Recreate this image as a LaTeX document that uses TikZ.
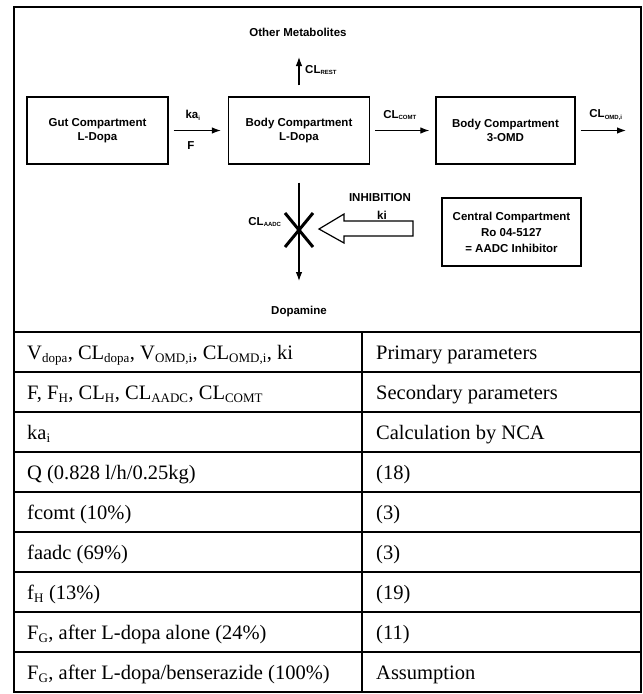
\documentclass[tikz,border=0pt]{standalone}
\usepackage{fontspec}
\setmainfont{Liberation Serif}
\newfontfamily\dsans{Liberation Sans}
\usetikzlibrary{arrows.meta}
\newcommand\dsub[1]{\textsubscript{\fontsize{6}{6}\selectfont #1}}
\newcommand\tsub[1]{\textsubscript{\fontsize{13}{13}\selectfont #1}}
\begin{document}
\begin{tikzpicture}[x=1pt,y=-1pt,
  dfont/.style={font=\dsans\bfseries\fontsize{11.5}{14}\selectfont},
  cbox/.style={draw, line width=1.3pt, minimum width=141pt, minimum height=67pt, align=center, inner sep=0pt, dfont},
  lbl/.style={inner sep=0pt, dfont},
  flow/.style={-{Latex[length=9pt,width=6.5pt]}, line width=1.1pt},
  tline/.style={line width=1.8pt},
  ttext/.style={anchor=base west, inner sep=0pt, font=\fontsize{20.5}{24}\selectfont}
]
\useasboundingbox (0,0) rectangle (643,694);
\fill[white] (0,0) rectangle (643,694);

% outer frame and table grid
\draw[line width=1.6pt] (14,7) rectangle (641,692);
\foreach \k in {0,...,8} \draw[tline] (14,332+40*\k) -- (641,332+40*\k);
\draw[line width=1.4pt] (362,332) -- (362,692);

% compartments
\node[cbox] (gut) at (97.5,130.5) {Gut Compartment\\L-Dopa};
\node[cbox] (body) at (299,130.5) {Body Compartment\\L-Dopa};
\node[cbox, minimum width=139pt] (omd) at (505.5,130.5) {Body Compartment\\3-OMD};
\node[cbox, minimum width=139pt, minimum height=68pt] (cen) at (511.5,232) {Central Compartment\\[2pt]Ro 04-5127\\[2pt]= AADC Inhibitor};

% flows
\draw[flow, shorten <=5pt, shorten >=7pt] (gut) -- (body);
\draw[flow, shorten <=5pt, shorten >=6pt] (body) -- (omd);
\coordinate (omdout) at (626,130.5);
\draw[flow, shorten <=5pt] (omd.east) -- (omdout);
\node[lbl] (ka) at (193,115) {ka\dsub{i}};
\node[lbl] (F) at (191,146) {F};
\node[lbl] (clcomt) at (400,115) {CL\dsub{COMT}};
\node[lbl] (clomd) at (606,115) {CL\dsub{OMD,i}};

\node[lbl] (om) at (298,32) {Other Metabolites};
\coordinate (upE) at (299,57);
\draw[flow, shorten <=11pt] (body.north) -- (upE);
\node[lbl, anchor=west] (clrest) at (305,70) {CL\dsub{REST}};

\coordinate (downE) at (299,281);
\draw[flow, shorten <=18pt] (body.south) -- (downE);
\node[lbl] (dop) at (299,312) {Dopamine};
\node[lbl] (claadc) at (265,222) {CL\dsub{AADC}};
\coordinate (xc) at (299,230);
\draw[line width=3pt] ([shift={(-14,-17)}]xc) -- ([shift={(14,17)}]xc);
\draw[line width=3pt] ([shift={(14,-17)}]xc) -- ([shift={(-14,17)}]xc);

% inhibition arrow
\draw[line width=1.2pt, line join=miter] (319,229) -- (344,214) -- (344,221) -- (413,221) -- (413,236) -- (344,236) -- (344,243) -- cycle;
\node[lbl] (inh) at (380,198) {INHIBITION};
\node[lbl] (ki) at (382,215) {ki};

% table text
\node[ttext] (a1) at (27,359.5) {V\tsub{dopa}, CL\tsub{dopa}, V\tsub{OMD,i}, CL\tsub{OMD,i}, ki};
\node[ttext] (b1) at (376,359.5) {Primary parameters};
\node[ttext] (a2) at (27,399.5) {F, F\tsub{H}, CL\tsub{H}, CL\tsub{AADC}, CL\tsub{COMT}};
\node[ttext] (b2) at (376,399.5) {Secondary parameters};
\node[ttext] (a3) at (27,439.5) {ka\tsub{i}};
\node[ttext] (b3) at (376,439.5) {Calculation by NCA};
\node[ttext] (a4) at (27,479.5) {Q (0.828 l/h/0.25kg)};
\node[ttext] (b4) at (376,479.5) {(18)};
\node[ttext] (a5) at (27,519.5) {fcomt (10\%)};
\node[ttext] (b5) at (376,519.5) {(3)};
\node[ttext] (a6) at (27,559.5) {faadc (69\%)};
\node[ttext] (b6) at (376,559.5) {(3)};
\node[ttext] (a7) at (27,599.5) {f\tsub{H} (13\%)};
\node[ttext] (b7) at (376,599.5) {(19)};
\node[ttext] (a8) at (27,639.5) {F\tsub{G}, after L-dopa alone (24\%)};
\node[ttext] (b8) at (376,639.5) {(11)};
\node[ttext] (a9) at (27,679.5) {F\tsub{G}, after L-dopa/benserazide (100\%)};
\node[ttext] (b9) at (376,679.5) {Assumption};
\end{tikzpicture}
\end{document}
